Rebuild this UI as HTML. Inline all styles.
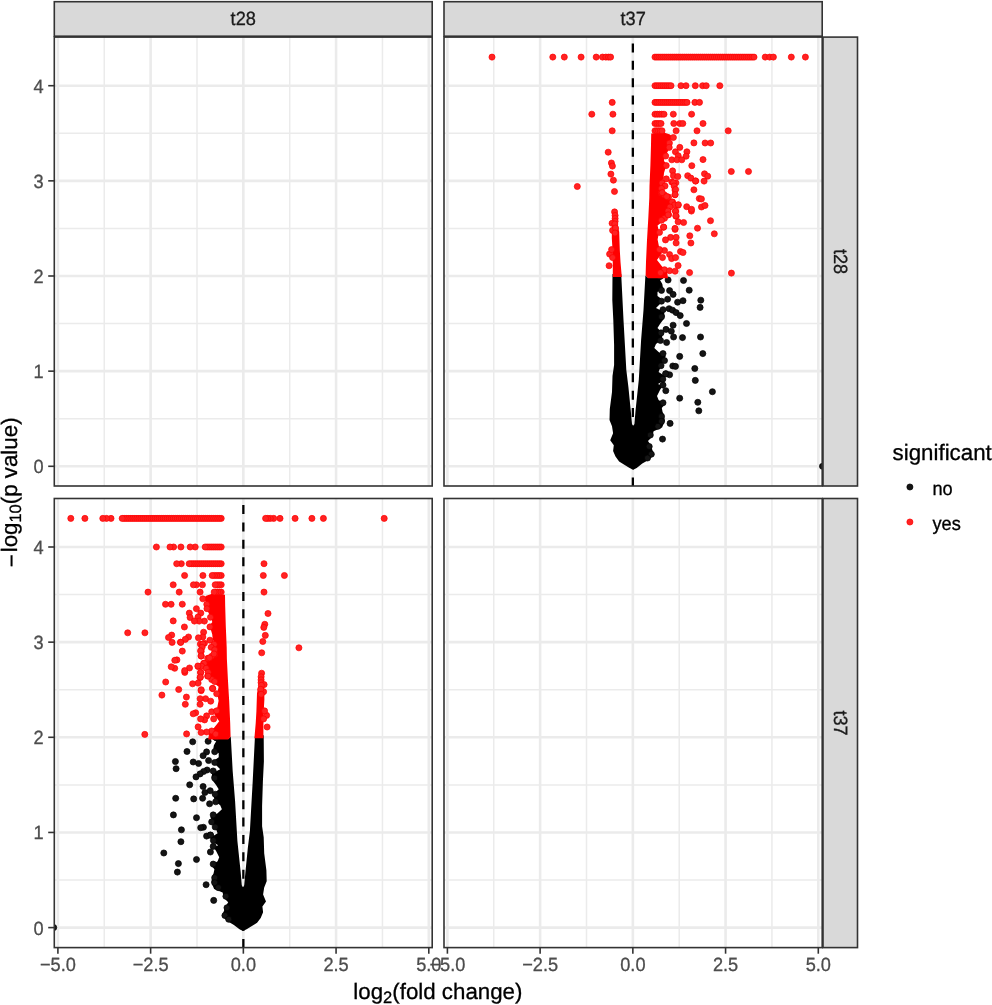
<!DOCTYPE html><html><head><meta charset="utf-8"><style>html,body{margin:0;padding:0;background:#fff;}svg{display:block;text-rendering:geometricPrecision;}</style></head><body><svg width="992" height="1005" viewBox="0 0 992 1005">
<g>
<rect width="992" height="1005" fill="#fff"/>
<clipPath id="clipLT"><rect x="54.3" y="37.1" width="377.9" height="448.9"/></clipPath>
<g clip-path="url(#clipLT)"><line x1="104.26" y1="37.1" x2="104.26" y2="486.0" stroke="#EBEBEB" stroke-width="1.5"/><line x1="196.99" y1="37.1" x2="196.99" y2="486.0" stroke="#EBEBEB" stroke-width="1.5"/><line x1="289.71" y1="37.1" x2="289.71" y2="486.0" stroke="#EBEBEB" stroke-width="1.5"/><line x1="382.44" y1="37.1" x2="382.44" y2="486.0" stroke="#EBEBEB" stroke-width="1.5"/><line x1="54.3" y1="418.73" x2="432.2" y2="418.73" stroke="#EBEBEB" stroke-width="1.5"/><line x1="54.3" y1="323.57" x2="432.2" y2="323.57" stroke="#EBEBEB" stroke-width="1.5"/><line x1="54.3" y1="228.43" x2="432.2" y2="228.43" stroke="#EBEBEB" stroke-width="1.5"/><line x1="54.3" y1="133.27" x2="432.2" y2="133.27" stroke="#EBEBEB" stroke-width="1.5"/><line x1="57.9" y1="37.1" x2="57.9" y2="486.0" stroke="#EBEBEB" stroke-width="2.6"/><line x1="150.62" y1="37.1" x2="150.62" y2="486.0" stroke="#EBEBEB" stroke-width="2.6"/><line x1="243.35" y1="37.1" x2="243.35" y2="486.0" stroke="#EBEBEB" stroke-width="2.6"/><line x1="336.07" y1="37.1" x2="336.07" y2="486.0" stroke="#EBEBEB" stroke-width="2.6"/><line x1="428.8" y1="37.1" x2="428.8" y2="486.0" stroke="#EBEBEB" stroke-width="2.6"/><line x1="54.3" y1="466.3" x2="432.2" y2="466.3" stroke="#EBEBEB" stroke-width="2.6"/><line x1="54.3" y1="371.15" x2="432.2" y2="371.15" stroke="#EBEBEB" stroke-width="2.6"/><line x1="54.3" y1="276" x2="432.2" y2="276" stroke="#EBEBEB" stroke-width="2.6"/><line x1="54.3" y1="180.85" x2="432.2" y2="180.85" stroke="#EBEBEB" stroke-width="2.6"/><line x1="54.3" y1="85.7" x2="432.2" y2="85.7" stroke="#EBEBEB" stroke-width="2.6"/></g>
<clipPath id="clipLB"><rect x="54.3" y="498.5" width="377.9" height="449.1"/></clipPath>
<g clip-path="url(#clipLB)"><line x1="104.26" y1="498.5" x2="104.26" y2="947.6" stroke="#EBEBEB" stroke-width="1.5"/><line x1="196.99" y1="498.5" x2="196.99" y2="947.6" stroke="#EBEBEB" stroke-width="1.5"/><line x1="289.71" y1="498.5" x2="289.71" y2="947.6" stroke="#EBEBEB" stroke-width="1.5"/><line x1="382.44" y1="498.5" x2="382.44" y2="947.6" stroke="#EBEBEB" stroke-width="1.5"/><line x1="54.3" y1="880.02" x2="432.2" y2="880.02" stroke="#EBEBEB" stroke-width="1.5"/><line x1="54.3" y1="784.88" x2="432.2" y2="784.88" stroke="#EBEBEB" stroke-width="1.5"/><line x1="54.3" y1="689.73" x2="432.2" y2="689.73" stroke="#EBEBEB" stroke-width="1.5"/><line x1="54.3" y1="594.58" x2="432.2" y2="594.58" stroke="#EBEBEB" stroke-width="1.5"/><line x1="57.9" y1="498.5" x2="57.9" y2="947.6" stroke="#EBEBEB" stroke-width="2.6"/><line x1="150.62" y1="498.5" x2="150.62" y2="947.6" stroke="#EBEBEB" stroke-width="2.6"/><line x1="243.35" y1="498.5" x2="243.35" y2="947.6" stroke="#EBEBEB" stroke-width="2.6"/><line x1="336.07" y1="498.5" x2="336.07" y2="947.6" stroke="#EBEBEB" stroke-width="2.6"/><line x1="428.8" y1="498.5" x2="428.8" y2="947.6" stroke="#EBEBEB" stroke-width="2.6"/><line x1="54.3" y1="927.6" x2="432.2" y2="927.6" stroke="#EBEBEB" stroke-width="2.6"/><line x1="54.3" y1="832.45" x2="432.2" y2="832.45" stroke="#EBEBEB" stroke-width="2.6"/><line x1="54.3" y1="737.3" x2="432.2" y2="737.3" stroke="#EBEBEB" stroke-width="2.6"/><line x1="54.3" y1="642.15" x2="432.2" y2="642.15" stroke="#EBEBEB" stroke-width="2.6"/><line x1="54.3" y1="547" x2="432.2" y2="547" stroke="#EBEBEB" stroke-width="2.6"/></g>
<clipPath id="clipRT"><rect x="444.0" y="37.1" width="378.20000000000005" height="448.9"/></clipPath>
<g clip-path="url(#clipRT)"><line x1="493.76" y1="37.1" x2="493.76" y2="486.0" stroke="#EBEBEB" stroke-width="1.5"/><line x1="586.49" y1="37.1" x2="586.49" y2="486.0" stroke="#EBEBEB" stroke-width="1.5"/><line x1="679.21" y1="37.1" x2="679.21" y2="486.0" stroke="#EBEBEB" stroke-width="1.5"/><line x1="771.94" y1="37.1" x2="771.94" y2="486.0" stroke="#EBEBEB" stroke-width="1.5"/><line x1="444.0" y1="418.73" x2="822.2" y2="418.73" stroke="#EBEBEB" stroke-width="1.5"/><line x1="444.0" y1="323.57" x2="822.2" y2="323.57" stroke="#EBEBEB" stroke-width="1.5"/><line x1="444.0" y1="228.43" x2="822.2" y2="228.43" stroke="#EBEBEB" stroke-width="1.5"/><line x1="444.0" y1="133.27" x2="822.2" y2="133.27" stroke="#EBEBEB" stroke-width="1.5"/><line x1="447.4" y1="37.1" x2="447.4" y2="486.0" stroke="#EBEBEB" stroke-width="2.6"/><line x1="540.12" y1="37.1" x2="540.12" y2="486.0" stroke="#EBEBEB" stroke-width="2.6"/><line x1="632.85" y1="37.1" x2="632.85" y2="486.0" stroke="#EBEBEB" stroke-width="2.6"/><line x1="725.58" y1="37.1" x2="725.58" y2="486.0" stroke="#EBEBEB" stroke-width="2.6"/><line x1="818.3" y1="37.1" x2="818.3" y2="486.0" stroke="#EBEBEB" stroke-width="2.6"/><line x1="444.0" y1="466.3" x2="822.2" y2="466.3" stroke="#EBEBEB" stroke-width="2.6"/><line x1="444.0" y1="371.15" x2="822.2" y2="371.15" stroke="#EBEBEB" stroke-width="2.6"/><line x1="444.0" y1="276" x2="822.2" y2="276" stroke="#EBEBEB" stroke-width="2.6"/><line x1="444.0" y1="180.85" x2="822.2" y2="180.85" stroke="#EBEBEB" stroke-width="2.6"/><line x1="444.0" y1="85.7" x2="822.2" y2="85.7" stroke="#EBEBEB" stroke-width="2.6"/></g>
<clipPath id="clipRB"><rect x="444.0" y="498.5" width="378.20000000000005" height="449.1"/></clipPath>
<g clip-path="url(#clipRB)"><line x1="493.76" y1="498.5" x2="493.76" y2="947.6" stroke="#EBEBEB" stroke-width="1.5"/><line x1="586.49" y1="498.5" x2="586.49" y2="947.6" stroke="#EBEBEB" stroke-width="1.5"/><line x1="679.21" y1="498.5" x2="679.21" y2="947.6" stroke="#EBEBEB" stroke-width="1.5"/><line x1="771.94" y1="498.5" x2="771.94" y2="947.6" stroke="#EBEBEB" stroke-width="1.5"/><line x1="444.0" y1="880.02" x2="822.2" y2="880.02" stroke="#EBEBEB" stroke-width="1.5"/><line x1="444.0" y1="784.88" x2="822.2" y2="784.88" stroke="#EBEBEB" stroke-width="1.5"/><line x1="444.0" y1="689.73" x2="822.2" y2="689.73" stroke="#EBEBEB" stroke-width="1.5"/><line x1="444.0" y1="594.58" x2="822.2" y2="594.58" stroke="#EBEBEB" stroke-width="1.5"/><line x1="447.4" y1="498.5" x2="447.4" y2="947.6" stroke="#EBEBEB" stroke-width="2.6"/><line x1="540.12" y1="498.5" x2="540.12" y2="947.6" stroke="#EBEBEB" stroke-width="2.6"/><line x1="632.85" y1="498.5" x2="632.85" y2="947.6" stroke="#EBEBEB" stroke-width="2.6"/><line x1="725.58" y1="498.5" x2="725.58" y2="947.6" stroke="#EBEBEB" stroke-width="2.6"/><line x1="818.3" y1="498.5" x2="818.3" y2="947.6" stroke="#EBEBEB" stroke-width="2.6"/><line x1="444.0" y1="927.6" x2="822.2" y2="927.6" stroke="#EBEBEB" stroke-width="2.6"/><line x1="444.0" y1="832.45" x2="822.2" y2="832.45" stroke="#EBEBEB" stroke-width="2.6"/><line x1="444.0" y1="737.3" x2="822.2" y2="737.3" stroke="#EBEBEB" stroke-width="2.6"/><line x1="444.0" y1="642.15" x2="822.2" y2="642.15" stroke="#EBEBEB" stroke-width="2.6"/><line x1="444.0" y1="547" x2="822.2" y2="547" stroke="#EBEBEB" stroke-width="2.6"/></g>
<g clip-path="url(#clipRT)"><polygon points="612.5,274 612.3,300 613.3,320 614.1,345 614.1,365 612.5,376 612,392 609.8,409 609.5,420 612,426.2 613.1,433.3 610.2,440.3 613.8,445.3 613.1,450.9 615.5,456.6 619.1,461.5 624.7,465 629.6,467.9 633.2,469.8 636.7,467.9 642.3,463.6 649.4,459.4 654.3,454.5 652.2,449.5 650.8,445.3 648,441 652.2,436.8 653.6,431.2 662.1,427.6 664.9,420.6 663.5,414 662.6,412 661.8,408 665,404 658.6,400 657,396 660,390 662.6,386 658,384 665,380 665,376 658.6,372 661.8,364 665.8,356 658.6,352 654.3,348 656,344 661.5,340 662.3,336 661.5,332 657.5,328 660,324 663,320 664.7,316 664,312 656,308 660,304 663,300 657.5,296 657.5,292 663,288 662.3,284 660,280 663.9,277.8 648,277.8 645.4,275.5 643.5,310 641.1,340 638.8,379.8 635.6,410 634.4,424 633.2,426.2 632,424 630.7,410 628.4,387 626.3,369.8 623.5,320 621.2,274" fill="#000000"/><circle cx="660" cy="276.5" r="3.05" fill="#141414" stroke="#000" stroke-width="0.7"/><circle cx="668.1" cy="280" r="3.05" fill="#141414" stroke="#000" stroke-width="0.7"/><circle cx="683.5" cy="280.5" r="3.05" fill="#141414" stroke="#000" stroke-width="0.7"/><circle cx="689.2" cy="290.2" r="3.05" fill="#141414" stroke="#000" stroke-width="0.7"/><circle cx="669.6" cy="290.6" r="3.05" fill="#141414" stroke="#000" stroke-width="0.7"/><circle cx="673.1" cy="294.4" r="3.05" fill="#141414" stroke="#000" stroke-width="0.7"/><circle cx="661.5" cy="290.4" r="3.05" fill="#141414" stroke="#000" stroke-width="0.7"/><circle cx="667.6" cy="299.2" r="3.05" fill="#141414" stroke="#000" stroke-width="0.7"/><circle cx="661.5" cy="301.2" r="3.05" fill="#141414" stroke="#000" stroke-width="0.7"/><circle cx="677.6" cy="302.2" r="3.05" fill="#141414" stroke="#000" stroke-width="0.7"/><circle cx="683" cy="300.7" r="3.05" fill="#141414" stroke="#000" stroke-width="0.7"/><circle cx="700.8" cy="300.2" r="3.05" fill="#141414" stroke="#000" stroke-width="0.7"/><circle cx="700.1" cy="307.4" r="3.05" fill="#141414" stroke="#000" stroke-width="0.7"/><circle cx="669.1" cy="308.7" r="3.05" fill="#141414" stroke="#000" stroke-width="0.7"/><circle cx="663" cy="309.7" r="3.05" fill="#141414" stroke="#000" stroke-width="0.7"/><circle cx="672.6" cy="310.2" r="3.05" fill="#141414" stroke="#000" stroke-width="0.7"/><circle cx="676.1" cy="312.6" r="3.05" fill="#141414" stroke="#000" stroke-width="0.7"/><circle cx="680.2" cy="315.6" r="3.05" fill="#141414" stroke="#000" stroke-width="0.7"/><circle cx="661.5" cy="316.8" r="3.05" fill="#141414" stroke="#000" stroke-width="0.7"/><circle cx="686.5" cy="323.5" r="3.05" fill="#141414" stroke="#000" stroke-width="0.7"/><circle cx="673.1" cy="325.2" r="3.05" fill="#141414" stroke="#000" stroke-width="0.7"/><circle cx="666" cy="329.4" r="3.05" fill="#141414" stroke="#000" stroke-width="0.7"/><circle cx="671.3" cy="331.2" r="3.05" fill="#141414" stroke="#000" stroke-width="0.7"/><circle cx="661" cy="332.9" r="3.05" fill="#141414" stroke="#000" stroke-width="0.7"/><circle cx="673.6" cy="337" r="3.05" fill="#141414" stroke="#000" stroke-width="0.7"/><circle cx="682.5" cy="337.6" r="3.05" fill="#141414" stroke="#000" stroke-width="0.7"/><circle cx="700.5" cy="337" r="3.05" fill="#141414" stroke="#000" stroke-width="0.7"/><circle cx="666.6" cy="342.5" r="3.05" fill="#141414" stroke="#000" stroke-width="0.7"/><circle cx="660.5" cy="340.5" r="3.05" fill="#141414" stroke="#000" stroke-width="0.7"/><circle cx="702.8" cy="353.6" r="3.05" fill="#141414" stroke="#000" stroke-width="0.7"/><circle cx="679.7" cy="356.4" r="3.05" fill="#141414" stroke="#000" stroke-width="0.7"/><circle cx="663" cy="353.6" r="3.05" fill="#141414" stroke="#000" stroke-width="0.7"/><circle cx="664.5" cy="360.6" r="3.05" fill="#141414" stroke="#000" stroke-width="0.7"/><circle cx="672.8" cy="366" r="3.05" fill="#141414" stroke="#000" stroke-width="0.7"/><circle cx="675.5" cy="366.4" r="3.05" fill="#141414" stroke="#000" stroke-width="0.7"/><circle cx="694.8" cy="368.5" r="3.05" fill="#141414" stroke="#000" stroke-width="0.7"/><circle cx="666" cy="373.8" r="3.05" fill="#141414" stroke="#000" stroke-width="0.7"/><circle cx="669.6" cy="374.8" r="3.05" fill="#141414" stroke="#000" stroke-width="0.7"/><circle cx="695.3" cy="380.4" r="3.05" fill="#141414" stroke="#000" stroke-width="0.7"/><circle cx="661" cy="365.7" r="3.05" fill="#141414" stroke="#000" stroke-width="0.7"/><circle cx="663" cy="385.1" r="3.05" fill="#141414" stroke="#000" stroke-width="0.7"/><circle cx="665.8" cy="390.7" r="3.05" fill="#141414" stroke="#000" stroke-width="0.7"/><circle cx="712.4" cy="391.7" r="3.05" fill="#141414" stroke="#000" stroke-width="0.7"/><circle cx="679.7" cy="398.2" r="3.05" fill="#141414" stroke="#000" stroke-width="0.7"/><circle cx="663" cy="402.8" r="3.05" fill="#141414" stroke="#000" stroke-width="0.7"/><circle cx="697.8" cy="402.3" r="3.05" fill="#141414" stroke="#000" stroke-width="0.7"/><circle cx="698.8" cy="410.8" r="3.05" fill="#141414" stroke="#000" stroke-width="0.7"/><circle cx="670.1" cy="423.4" r="3.05" fill="#141414" stroke="#000" stroke-width="0.7"/><circle cx="661.5" cy="416.4" r="3.05" fill="#141414" stroke="#000" stroke-width="0.7"/><circle cx="661.5" cy="421.4" r="3.05" fill="#141414" stroke="#000" stroke-width="0.7"/><circle cx="662.5" cy="439.1" r="3.05" fill="#141414" stroke="#000" stroke-width="0.7"/><circle cx="662.8" cy="379.2" r="3.05" fill="#141414" stroke="#000" stroke-width="0.7"/><circle cx="665.6" cy="373.8" r="3.05" fill="#141414" stroke="#000" stroke-width="0.7"/><circle cx="650.3" cy="435" r="3.05" fill="#141414" stroke="#000" stroke-width="0.7"/><circle cx="649.2" cy="446.5" r="3.05" fill="#141414" stroke="#000" stroke-width="0.7"/><circle cx="651.3" cy="454.2" r="3.05" fill="#141414" stroke="#000" stroke-width="0.7"/><circle cx="647.5" cy="458" r="3.05" fill="#141414" stroke="#000" stroke-width="0.7"/><circle cx="657.9" cy="426.3" r="3.05" fill="#141414" stroke="#000" stroke-width="0.7"/><circle cx="822.5" cy="466.3" r="3.05" fill="#141414" stroke="#000" stroke-width="0.7"/><polygon points="651.2,133.5 664,132.5 670,134.5 672.5,137 670,141 668.5,145 669,149 667,153 664.5,157 664,161 666.5,164 665.5,168 664,173 663.5,178 661,184 660,188 664,192 669,196 673,201 674,205 671,209 669,213 667,217 662,222 657.6,225.5 659,232.4 657.6,239.4 659,246.4 662,253 657,260 662.5,267 667,271 668,278.3 648,278.3 645.6,275.5 646,262 647,240 648.3,218 649.3,198 649.5,186 650.4,165 651,145" fill="#FF0000"/><polygon points="612,226 617.5,224 619.2,232 619.8,250 620.5,262 621.8,277 612.8,277 612.8,265 612.5,250 611.8,238" fill="#FF0000"/><circle cx="492" cy="57.1" r="3.05" fill="#F22" stroke="#F00" stroke-width="0.7"/><circle cx="552.8" cy="57.1" r="3.05" fill="#F22" stroke="#F00" stroke-width="0.7"/><circle cx="564.3" cy="57.1" r="3.05" fill="#F22" stroke="#F00" stroke-width="0.7"/><circle cx="581.1" cy="57.1" r="3.05" fill="#F22" stroke="#F00" stroke-width="0.7"/><circle cx="596.2" cy="57.1" r="3.05" fill="#F22" stroke="#F00" stroke-width="0.7"/><circle cx="602.5" cy="57.1" r="3.05" fill="#F22" stroke="#F00" stroke-width="0.7"/><circle cx="605.9" cy="57.1" r="3.05" fill="#F22" stroke="#F00" stroke-width="0.7"/><circle cx="608.5" cy="57.1" r="3.05" fill="#F22" stroke="#F00" stroke-width="0.7"/><circle cx="610.6" cy="57.1" r="3.05" fill="#F22" stroke="#F00" stroke-width="0.7"/><circle cx="655" cy="57.1" r="3.05" fill="#F22" stroke="#F00" stroke-width="0.7"/><circle cx="656.98" cy="57.1" r="3.05" fill="#F22" stroke="#F00" stroke-width="0.7"/><circle cx="658.96" cy="57.1" r="3.05" fill="#F22" stroke="#F00" stroke-width="0.7"/><circle cx="660.94" cy="57.1" r="3.05" fill="#F22" stroke="#F00" stroke-width="0.7"/><circle cx="662.92" cy="57.1" r="3.05" fill="#F22" stroke="#F00" stroke-width="0.7"/><circle cx="664.9" cy="57.1" r="3.05" fill="#F22" stroke="#F00" stroke-width="0.7"/><circle cx="666.88" cy="57.1" r="3.05" fill="#F22" stroke="#F00" stroke-width="0.7"/><circle cx="668.86" cy="57.1" r="3.05" fill="#F22" stroke="#F00" stroke-width="0.7"/><circle cx="670.84" cy="57.1" r="3.05" fill="#F22" stroke="#F00" stroke-width="0.7"/><circle cx="672.82" cy="57.1" r="3.05" fill="#F22" stroke="#F00" stroke-width="0.7"/><circle cx="674.8" cy="57.1" r="3.05" fill="#F22" stroke="#F00" stroke-width="0.7"/><circle cx="676.78" cy="57.1" r="3.05" fill="#F22" stroke="#F00" stroke-width="0.7"/><circle cx="678.76" cy="57.1" r="3.05" fill="#F22" stroke="#F00" stroke-width="0.7"/><circle cx="680.74" cy="57.1" r="3.05" fill="#F22" stroke="#F00" stroke-width="0.7"/><circle cx="682.72" cy="57.1" r="3.05" fill="#F22" stroke="#F00" stroke-width="0.7"/><circle cx="684.7" cy="57.1" r="3.05" fill="#F22" stroke="#F00" stroke-width="0.7"/><circle cx="686.68" cy="57.1" r="3.05" fill="#F22" stroke="#F00" stroke-width="0.7"/><circle cx="688.66" cy="57.1" r="3.05" fill="#F22" stroke="#F00" stroke-width="0.7"/><circle cx="690.64" cy="57.1" r="3.05" fill="#F22" stroke="#F00" stroke-width="0.7"/><circle cx="692.62" cy="57.1" r="3.05" fill="#F22" stroke="#F00" stroke-width="0.7"/><circle cx="694.6" cy="57.1" r="3.05" fill="#F22" stroke="#F00" stroke-width="0.7"/><circle cx="696.58" cy="57.1" r="3.05" fill="#F22" stroke="#F00" stroke-width="0.7"/><circle cx="698.56" cy="57.1" r="3.05" fill="#F22" stroke="#F00" stroke-width="0.7"/><circle cx="700.54" cy="57.1" r="3.05" fill="#F22" stroke="#F00" stroke-width="0.7"/><circle cx="702.52" cy="57.1" r="3.05" fill="#F22" stroke="#F00" stroke-width="0.7"/><circle cx="704.5" cy="57.1" r="3.05" fill="#F22" stroke="#F00" stroke-width="0.7"/><circle cx="706.48" cy="57.1" r="3.05" fill="#F22" stroke="#F00" stroke-width="0.7"/><circle cx="708.46" cy="57.1" r="3.05" fill="#F22" stroke="#F00" stroke-width="0.7"/><circle cx="710.44" cy="57.1" r="3.05" fill="#F22" stroke="#F00" stroke-width="0.7"/><circle cx="712.42" cy="57.1" r="3.05" fill="#F22" stroke="#F00" stroke-width="0.7"/><circle cx="714.4" cy="57.1" r="3.05" fill="#F22" stroke="#F00" stroke-width="0.7"/><circle cx="716.38" cy="57.1" r="3.05" fill="#F22" stroke="#F00" stroke-width="0.7"/><circle cx="718.36" cy="57.1" r="3.05" fill="#F22" stroke="#F00" stroke-width="0.7"/><circle cx="720.34" cy="57.1" r="3.05" fill="#F22" stroke="#F00" stroke-width="0.7"/><circle cx="722.32" cy="57.1" r="3.05" fill="#F22" stroke="#F00" stroke-width="0.7"/><circle cx="724.3" cy="57.1" r="3.05" fill="#F22" stroke="#F00" stroke-width="0.7"/><circle cx="726.28" cy="57.1" r="3.05" fill="#F22" stroke="#F00" stroke-width="0.7"/><circle cx="728.26" cy="57.1" r="3.05" fill="#F22" stroke="#F00" stroke-width="0.7"/><circle cx="730.24" cy="57.1" r="3.05" fill="#F22" stroke="#F00" stroke-width="0.7"/><circle cx="732.22" cy="57.1" r="3.05" fill="#F22" stroke="#F00" stroke-width="0.7"/><circle cx="734.2" cy="57.1" r="3.05" fill="#F22" stroke="#F00" stroke-width="0.7"/><circle cx="736.18" cy="57.1" r="3.05" fill="#F22" stroke="#F00" stroke-width="0.7"/><circle cx="738.16" cy="57.1" r="3.05" fill="#F22" stroke="#F00" stroke-width="0.7"/><circle cx="740.14" cy="57.1" r="3.05" fill="#F22" stroke="#F00" stroke-width="0.7"/><circle cx="742.12" cy="57.1" r="3.05" fill="#F22" stroke="#F00" stroke-width="0.7"/><circle cx="744.1" cy="57.1" r="3.05" fill="#F22" stroke="#F00" stroke-width="0.7"/><circle cx="746.08" cy="57.1" r="3.05" fill="#F22" stroke="#F00" stroke-width="0.7"/><circle cx="748.06" cy="57.1" r="3.05" fill="#F22" stroke="#F00" stroke-width="0.7"/><circle cx="750.04" cy="57.1" r="3.05" fill="#F22" stroke="#F00" stroke-width="0.7"/><circle cx="752.02" cy="57.1" r="3.05" fill="#F22" stroke="#F00" stroke-width="0.7"/><circle cx="754" cy="57.1" r="3.05" fill="#F22" stroke="#F00" stroke-width="0.7"/><circle cx="765.2" cy="57.1" r="3.05" fill="#F22" stroke="#F00" stroke-width="0.7"/><circle cx="769.7" cy="57.1" r="3.05" fill="#F22" stroke="#F00" stroke-width="0.7"/><circle cx="773.4" cy="57.1" r="3.05" fill="#F22" stroke="#F00" stroke-width="0.7"/><circle cx="791.3" cy="57.1" r="3.05" fill="#F22" stroke="#F00" stroke-width="0.7"/><circle cx="805.4" cy="57.1" r="3.05" fill="#F22" stroke="#F00" stroke-width="0.7"/><circle cx="655" cy="85.7" r="3.05" fill="#F22" stroke="#F00" stroke-width="0.7"/><circle cx="657" cy="85.7" r="3.05" fill="#F22" stroke="#F00" stroke-width="0.7"/><circle cx="659" cy="85.7" r="3.05" fill="#F22" stroke="#F00" stroke-width="0.7"/><circle cx="661" cy="85.7" r="3.05" fill="#F22" stroke="#F00" stroke-width="0.7"/><circle cx="663" cy="85.7" r="3.05" fill="#F22" stroke="#F00" stroke-width="0.7"/><circle cx="665" cy="85.7" r="3.05" fill="#F22" stroke="#F00" stroke-width="0.7"/><circle cx="667" cy="85.7" r="3.05" fill="#F22" stroke="#F00" stroke-width="0.7"/><circle cx="669" cy="85.7" r="3.05" fill="#F22" stroke="#F00" stroke-width="0.7"/><circle cx="671" cy="85.7" r="3.05" fill="#F22" stroke="#F00" stroke-width="0.7"/><circle cx="681" cy="85.7" r="3.05" fill="#F22" stroke="#F00" stroke-width="0.7"/><circle cx="686" cy="85.7" r="3.05" fill="#F22" stroke="#F00" stroke-width="0.7"/><circle cx="695.3" cy="85.7" r="3.05" fill="#F22" stroke="#F00" stroke-width="0.7"/><circle cx="702.6" cy="85.7" r="3.05" fill="#F22" stroke="#F00" stroke-width="0.7"/><circle cx="706.2" cy="85.7" r="3.05" fill="#F22" stroke="#F00" stroke-width="0.7"/><circle cx="719.8" cy="85.7" r="3.05" fill="#F22" stroke="#F00" stroke-width="0.7"/><circle cx="612.2" cy="102.4" r="3.05" fill="#F22" stroke="#F00" stroke-width="0.7"/><circle cx="655" cy="102.4" r="3.05" fill="#F22" stroke="#F00" stroke-width="0.7"/><circle cx="657" cy="102.4" r="3.05" fill="#F22" stroke="#F00" stroke-width="0.7"/><circle cx="659" cy="102.4" r="3.05" fill="#F22" stroke="#F00" stroke-width="0.7"/><circle cx="661" cy="102.4" r="3.05" fill="#F22" stroke="#F00" stroke-width="0.7"/><circle cx="663" cy="102.4" r="3.05" fill="#F22" stroke="#F00" stroke-width="0.7"/><circle cx="665" cy="102.4" r="3.05" fill="#F22" stroke="#F00" stroke-width="0.7"/><circle cx="667" cy="102.4" r="3.05" fill="#F22" stroke="#F00" stroke-width="0.7"/><circle cx="669" cy="102.4" r="3.05" fill="#F22" stroke="#F00" stroke-width="0.7"/><circle cx="671" cy="102.4" r="3.05" fill="#F22" stroke="#F00" stroke-width="0.7"/><circle cx="673" cy="102.4" r="3.05" fill="#F22" stroke="#F00" stroke-width="0.7"/><circle cx="675" cy="102.4" r="3.05" fill="#F22" stroke="#F00" stroke-width="0.7"/><circle cx="677" cy="102.4" r="3.05" fill="#F22" stroke="#F00" stroke-width="0.7"/><circle cx="679" cy="102.4" r="3.05" fill="#F22" stroke="#F00" stroke-width="0.7"/><circle cx="681" cy="102.4" r="3.05" fill="#F22" stroke="#F00" stroke-width="0.7"/><circle cx="683" cy="102.4" r="3.05" fill="#F22" stroke="#F00" stroke-width="0.7"/><circle cx="685" cy="102.4" r="3.05" fill="#F22" stroke="#F00" stroke-width="0.7"/><circle cx="687" cy="102.4" r="3.05" fill="#F22" stroke="#F00" stroke-width="0.7"/><circle cx="694.9" cy="102.4" r="3.05" fill="#F22" stroke="#F00" stroke-width="0.7"/><circle cx="699.5" cy="102.4" r="3.05" fill="#F22" stroke="#F00" stroke-width="0.7"/><circle cx="591.8" cy="114.2" r="3.05" fill="#F22" stroke="#F00" stroke-width="0.7"/><circle cx="612.9" cy="114.2" r="3.05" fill="#F22" stroke="#F00" stroke-width="0.7"/><circle cx="655" cy="114.2" r="3.05" fill="#F22" stroke="#F00" stroke-width="0.7"/><circle cx="657.25" cy="114.2" r="3.05" fill="#F22" stroke="#F00" stroke-width="0.7"/><circle cx="659.5" cy="114.2" r="3.05" fill="#F22" stroke="#F00" stroke-width="0.7"/><circle cx="661.75" cy="114.2" r="3.05" fill="#F22" stroke="#F00" stroke-width="0.7"/><circle cx="664" cy="114.2" r="3.05" fill="#F22" stroke="#F00" stroke-width="0.7"/><circle cx="673.3" cy="114.2" r="3.05" fill="#F22" stroke="#F00" stroke-width="0.7"/><circle cx="691.6" cy="114.2" r="3.05" fill="#F22" stroke="#F00" stroke-width="0.7"/><circle cx="655" cy="123.5" r="3.05" fill="#F22" stroke="#F00" stroke-width="0.7"/><circle cx="657" cy="123.5" r="3.05" fill="#F22" stroke="#F00" stroke-width="0.7"/><circle cx="659" cy="123.5" r="3.05" fill="#F22" stroke="#F00" stroke-width="0.7"/><circle cx="661" cy="123.5" r="3.05" fill="#F22" stroke="#F00" stroke-width="0.7"/><circle cx="673.8" cy="123.5" r="3.05" fill="#F22" stroke="#F00" stroke-width="0.7"/><circle cx="679.8" cy="123.5" r="3.05" fill="#F22" stroke="#F00" stroke-width="0.7"/><circle cx="682.8" cy="123.5" r="3.05" fill="#F22" stroke="#F00" stroke-width="0.7"/><circle cx="703" cy="123.5" r="3.05" fill="#F22" stroke="#F00" stroke-width="0.7"/><circle cx="612.2" cy="130.8" r="3.05" fill="#F22" stroke="#F00" stroke-width="0.7"/><circle cx="655" cy="130.8" r="3.05" fill="#F22" stroke="#F00" stroke-width="0.7"/><circle cx="656.75" cy="130.8" r="3.05" fill="#F22" stroke="#F00" stroke-width="0.7"/><circle cx="658.5" cy="130.8" r="3.05" fill="#F22" stroke="#F00" stroke-width="0.7"/><circle cx="660.25" cy="130.8" r="3.05" fill="#F22" stroke="#F00" stroke-width="0.7"/><circle cx="662" cy="130.8" r="3.05" fill="#F22" stroke="#F00" stroke-width="0.7"/><circle cx="676.1" cy="130.8" r="3.05" fill="#F22" stroke="#F00" stroke-width="0.7"/><circle cx="697" cy="130.8" r="3.05" fill="#F22" stroke="#F00" stroke-width="0.7"/><circle cx="728.2" cy="130.8" r="3.05" fill="#F22" stroke="#F00" stroke-width="0.7"/><circle cx="673.4" cy="137.5" r="3.05" fill="#F22" stroke="#F00" stroke-width="0.7"/><circle cx="669.4" cy="143.1" r="3.05" fill="#F22" stroke="#F00" stroke-width="0.7"/><circle cx="693.9" cy="142.9" r="3.05" fill="#F22" stroke="#F00" stroke-width="0.7"/><circle cx="705.1" cy="143" r="3.05" fill="#F22" stroke="#F00" stroke-width="0.7"/><circle cx="710.7" cy="143" r="3.05" fill="#F22" stroke="#F00" stroke-width="0.7"/><circle cx="679.8" cy="147.4" r="3.05" fill="#F22" stroke="#F00" stroke-width="0.7"/><circle cx="669.2" cy="147.4" r="3.05" fill="#F22" stroke="#F00" stroke-width="0.7"/><circle cx="675.4" cy="151.8" r="3.05" fill="#F22" stroke="#F00" stroke-width="0.7"/><circle cx="686.9" cy="151.8" r="3.05" fill="#F22" stroke="#F00" stroke-width="0.7"/><circle cx="686.1" cy="156.2" r="3.05" fill="#F22" stroke="#F00" stroke-width="0.7"/><circle cx="678.2" cy="155.8" r="3.05" fill="#F22" stroke="#F00" stroke-width="0.7"/><circle cx="665.7" cy="156" r="3.05" fill="#F22" stroke="#F00" stroke-width="0.7"/><circle cx="671.8" cy="159.8" r="3.05" fill="#F22" stroke="#F00" stroke-width="0.7"/><circle cx="677" cy="159.8" r="3.05" fill="#F22" stroke="#F00" stroke-width="0.7"/><circle cx="681.8" cy="159.8" r="3.05" fill="#F22" stroke="#F00" stroke-width="0.7"/><circle cx="703" cy="159.6" r="3.05" fill="#F22" stroke="#F00" stroke-width="0.7"/><circle cx="691.8" cy="165.7" r="3.05" fill="#F22" stroke="#F00" stroke-width="0.7"/><circle cx="666.2" cy="165.6" r="3.05" fill="#F22" stroke="#F00" stroke-width="0.7"/><circle cx="672.6" cy="170.9" r="3.05" fill="#F22" stroke="#F00" stroke-width="0.7"/><circle cx="731.3" cy="171.5" r="3.05" fill="#F22" stroke="#F00" stroke-width="0.7"/><circle cx="748.5" cy="171.5" r="3.05" fill="#F22" stroke="#F00" stroke-width="0.7"/><circle cx="673.4" cy="175.7" r="3.05" fill="#F22" stroke="#F00" stroke-width="0.7"/><circle cx="677.8" cy="176.5" r="3.05" fill="#F22" stroke="#F00" stroke-width="0.7"/><circle cx="687.7" cy="175.7" r="3.05" fill="#F22" stroke="#F00" stroke-width="0.7"/><circle cx="690.9" cy="178.1" r="3.05" fill="#F22" stroke="#F00" stroke-width="0.7"/><circle cx="695.7" cy="180.9" r="3.05" fill="#F22" stroke="#F00" stroke-width="0.7"/><circle cx="704.5" cy="173.8" r="3.05" fill="#F22" stroke="#F00" stroke-width="0.7"/><circle cx="707.7" cy="176.2" r="3.05" fill="#F22" stroke="#F00" stroke-width="0.7"/><circle cx="704.1" cy="181.1" r="3.05" fill="#F22" stroke="#F00" stroke-width="0.7"/><circle cx="695.5" cy="181.1" r="3.05" fill="#F22" stroke="#F00" stroke-width="0.7"/><circle cx="666.3" cy="178.9" r="3.05" fill="#F22" stroke="#F00" stroke-width="0.7"/><circle cx="671.8" cy="182" r="3.05" fill="#F22" stroke="#F00" stroke-width="0.7"/><circle cx="675.8" cy="182.8" r="3.05" fill="#F22" stroke="#F00" stroke-width="0.7"/><circle cx="673.3" cy="182.7" r="3.05" fill="#F22" stroke="#F00" stroke-width="0.7"/><circle cx="693.9" cy="189.8" r="3.05" fill="#F22" stroke="#F00" stroke-width="0.7"/><circle cx="675" cy="190" r="3.05" fill="#F22" stroke="#F00" stroke-width="0.7"/><circle cx="675" cy="194.8" r="3.05" fill="#F22" stroke="#F00" stroke-width="0.7"/><circle cx="661.9" cy="193.2" r="3.05" fill="#F22" stroke="#F00" stroke-width="0.7"/><circle cx="667.8" cy="197.2" r="3.05" fill="#F22" stroke="#F00" stroke-width="0.7"/><circle cx="661.2" cy="193.3" r="3.05" fill="#F22" stroke="#F00" stroke-width="0.7"/><circle cx="674.1" cy="186" r="3.05" fill="#F22" stroke="#F00" stroke-width="0.7"/><circle cx="675.6" cy="189.5" r="3.05" fill="#F22" stroke="#F00" stroke-width="0.7"/><circle cx="675.1" cy="194.6" r="3.05" fill="#F22" stroke="#F00" stroke-width="0.7"/><circle cx="699.3" cy="198.6" r="3.05" fill="#F22" stroke="#F00" stroke-width="0.7"/><circle cx="701.4" cy="199" r="3.05" fill="#F22" stroke="#F00" stroke-width="0.7"/><circle cx="661.5" cy="192.6" r="3.05" fill="#F22" stroke="#F00" stroke-width="0.7"/><circle cx="668.5" cy="197.1" r="3.05" fill="#F22" stroke="#F00" stroke-width="0.7"/><circle cx="664.5" cy="195" r="3.05" fill="#F22" stroke="#F00" stroke-width="0.7"/><circle cx="672.6" cy="202.1" r="3.05" fill="#F22" stroke="#F00" stroke-width="0.7"/><circle cx="678.1" cy="205.2" r="3.05" fill="#F22" stroke="#F00" stroke-width="0.7"/><circle cx="686.7" cy="206.7" r="3.05" fill="#F22" stroke="#F00" stroke-width="0.7"/><circle cx="691.4" cy="211.1" r="3.05" fill="#F22" stroke="#F00" stroke-width="0.7"/><circle cx="701.5" cy="207" r="3.05" fill="#F22" stroke="#F00" stroke-width="0.7"/><circle cx="705" cy="205.5" r="3.05" fill="#F22" stroke="#F00" stroke-width="0.7"/><circle cx="691.5" cy="209.3" r="3.05" fill="#F22" stroke="#F00" stroke-width="0.7"/><circle cx="675.6" cy="211.2" r="3.05" fill="#F22" stroke="#F00" stroke-width="0.7"/><circle cx="668.5" cy="214.7" r="3.05" fill="#F22" stroke="#F00" stroke-width="0.7"/><circle cx="676.1" cy="216.3" r="3.05" fill="#F22" stroke="#F00" stroke-width="0.7"/><circle cx="664.5" cy="218.3" r="3.05" fill="#F22" stroke="#F00" stroke-width="0.7"/><circle cx="661.5" cy="220.3" r="3.05" fill="#F22" stroke="#F00" stroke-width="0.7"/><circle cx="678.1" cy="221.8" r="3.05" fill="#F22" stroke="#F00" stroke-width="0.7"/><circle cx="683.6" cy="222.5" r="3.05" fill="#F22" stroke="#F00" stroke-width="0.7"/><circle cx="710.5" cy="220.7" r="3.05" fill="#F22" stroke="#F00" stroke-width="0.7"/><circle cx="663.5" cy="227.3" r="3.05" fill="#F22" stroke="#F00" stroke-width="0.7"/><circle cx="675.1" cy="229.4" r="3.05" fill="#F22" stroke="#F00" stroke-width="0.7"/><circle cx="697.5" cy="228.2" r="3.05" fill="#F22" stroke="#F00" stroke-width="0.7"/><circle cx="714.3" cy="233.8" r="3.05" fill="#F22" stroke="#F00" stroke-width="0.7"/><circle cx="659.5" cy="232.4" r="3.05" fill="#F22" stroke="#F00" stroke-width="0.7"/><circle cx="689.8" cy="235.8" r="3.05" fill="#F22" stroke="#F00" stroke-width="0.7"/><circle cx="670.6" cy="237.4" r="3.05" fill="#F22" stroke="#F00" stroke-width="0.7"/><circle cx="676.1" cy="237.4" r="3.05" fill="#F22" stroke="#F00" stroke-width="0.7"/><circle cx="665.5" cy="239.9" r="3.05" fill="#F22" stroke="#F00" stroke-width="0.7"/><circle cx="676.1" cy="243" r="3.05" fill="#F22" stroke="#F00" stroke-width="0.7"/><circle cx="690.9" cy="243" r="3.05" fill="#F22" stroke="#F00" stroke-width="0.7"/><circle cx="664.5" cy="250.5" r="3.05" fill="#F22" stroke="#F00" stroke-width="0.7"/><circle cx="669.6" cy="254.6" r="3.05" fill="#F22" stroke="#F00" stroke-width="0.7"/><circle cx="680.5" cy="251.5" r="3.05" fill="#F22" stroke="#F00" stroke-width="0.7"/><circle cx="683" cy="252.5" r="3.05" fill="#F22" stroke="#F00" stroke-width="0.7"/><circle cx="662.5" cy="257.6" r="3.05" fill="#F22" stroke="#F00" stroke-width="0.7"/><circle cx="671.6" cy="258.6" r="3.05" fill="#F22" stroke="#F00" stroke-width="0.7"/><circle cx="675.6" cy="257.6" r="3.05" fill="#F22" stroke="#F00" stroke-width="0.7"/><circle cx="659.5" cy="249.5" r="3.05" fill="#F22" stroke="#F00" stroke-width="0.7"/><circle cx="678.1" cy="265.6" r="3.05" fill="#F22" stroke="#F00" stroke-width="0.7"/><circle cx="664.5" cy="269.7" r="3.05" fill="#F22" stroke="#F00" stroke-width="0.7"/><circle cx="669.6" cy="270.7" r="3.05" fill="#F22" stroke="#F00" stroke-width="0.7"/><circle cx="675.1" cy="271.2" r="3.05" fill="#F22" stroke="#F00" stroke-width="0.7"/><circle cx="689.6" cy="272.6" r="3.05" fill="#F22" stroke="#F00" stroke-width="0.7"/><circle cx="660.5" cy="272.7" r="3.05" fill="#F22" stroke="#F00" stroke-width="0.7"/><circle cx="731.4" cy="273.1" r="3.05" fill="#F22" stroke="#F00" stroke-width="0.7"/><circle cx="613.4" cy="180.2" r="3.05" fill="#F22" stroke="#F00" stroke-width="0.7"/><circle cx="577.3" cy="186.5" r="3.05" fill="#F22" stroke="#F00" stroke-width="0.7"/><circle cx="614.5" cy="191.5" r="3.05" fill="#F22" stroke="#F00" stroke-width="0.7"/><circle cx="608.2" cy="152.2" r="3.05" fill="#F22" stroke="#F00" stroke-width="0.7"/><circle cx="611.4" cy="163" r="3.05" fill="#F22" stroke="#F00" stroke-width="0.7"/><circle cx="612.4" cy="166.1" r="3.05" fill="#F22" stroke="#F00" stroke-width="0.7"/><circle cx="610.9" cy="174.1" r="3.05" fill="#F22" stroke="#F00" stroke-width="0.7"/><circle cx="614.6" cy="211.9" r="3.05" fill="#F22" stroke="#F00" stroke-width="0.7"/><circle cx="615.1" cy="215.5" r="3.05" fill="#F22" stroke="#F00" stroke-width="0.7"/><circle cx="615.1" cy="218.5" r="3.05" fill="#F22" stroke="#F00" stroke-width="0.7"/><circle cx="615.1" cy="221.3" r="3.05" fill="#F22" stroke="#F00" stroke-width="0.7"/><circle cx="612.1" cy="223.3" r="3.05" fill="#F22" stroke="#F00" stroke-width="0.7"/><circle cx="612.6" cy="230.4" r="3.05" fill="#F22" stroke="#F00" stroke-width="0.7"/><circle cx="609.6" cy="254.1" r="3.05" fill="#F22" stroke="#F00" stroke-width="0.7"/><circle cx="611.6" cy="249.6" r="3.05" fill="#F22" stroke="#F00" stroke-width="0.7"/><circle cx="609.1" cy="265.7" r="3.05" fill="#F22" stroke="#F00" stroke-width="0.7"/><circle cx="612.6" cy="257.6" r="3.05" fill="#F22" stroke="#F00" stroke-width="0.7"/><circle cx="614.8" cy="224" r="3.05" fill="#F22" stroke="#F00" stroke-width="0.7"/><circle cx="615.5" cy="228" r="3.05" fill="#F22" stroke="#F00" stroke-width="0.7"/><circle cx="615" cy="233" r="3.05" fill="#F22" stroke="#F00" stroke-width="0.7"/><circle cx="662" cy="183" r="3.05" fill="#F22" stroke="#F00" stroke-width="0.7"/><circle cx="665" cy="186" r="3.05" fill="#F22" stroke="#F00" stroke-width="0.7"/><circle cx="661.5" cy="188.5" r="3.05" fill="#F22" stroke="#F00" stroke-width="0.7"/><circle cx="672" cy="202" r="3.05" fill="#F22" stroke="#F00" stroke-width="0.7"/><circle cx="674.5" cy="205" r="3.05" fill="#F22" stroke="#F00" stroke-width="0.7"/><circle cx="670" cy="207" r="3.05" fill="#F22" stroke="#F00" stroke-width="0.7"/><circle cx="668" cy="211" r="3.05" fill="#F22" stroke="#F00" stroke-width="0.7"/><circle cx="675.5" cy="211.3" r="3.05" fill="#F22" stroke="#F00" stroke-width="0.7"/><circle cx="675.8" cy="215.8" r="3.05" fill="#F22" stroke="#F00" stroke-width="0.7"/><circle cx="668.2" cy="214.8" r="3.05" fill="#F22" stroke="#F00" stroke-width="0.7"/><circle cx="662.2" cy="192.6" r="3.05" fill="#F22" stroke="#F00" stroke-width="0.7"/><circle cx="666.7" cy="196.6" r="3.05" fill="#F22" stroke="#F00" stroke-width="0.7"/><circle cx="678.3" cy="204.7" r="3.05" fill="#F22" stroke="#F00" stroke-width="0.7"/><circle cx="663.7" cy="227.1" r="3.05" fill="#F22" stroke="#F00" stroke-width="0.7"/><circle cx="675" cy="228.4" r="3.05" fill="#F22" stroke="#F00" stroke-width="0.7"/><line x1="632.85" y1="486.0" x2="632.85" y2="37.1" stroke="#000" stroke-width="2.3" stroke-dasharray="9.0 8.36" stroke-dashoffset="0.5"/></g>
<g clip-path="url(#clipLB)"><polygon points="263.7,735.3 263.9,761.3 262.9,781.3 262.1,806.3 262.1,826.3 263.7,837.3 264.2,853.3 266.4,870.3 266.7,881.3 264.2,887.5 263.1,894.6 266,901.6 262.4,906.6 263.1,912.2 260.7,917.9 257.1,922.8 251.5,926.3 246.6,929.2 243,931.1 239.5,929.2 233.9,924.9 226.8,920.7 221.9,915.8 224,910.8 225.4,906.6 228.2,902.3 224,898.1 222.6,892.5 214.1,888.9 211.3,881.9 212.7,875.3 213.6,873.3 214.4,869.3 211.2,865.3 217.6,861.3 219.2,857.3 216.2,851.3 213.6,847.3 218.2,845.3 211.2,841.3 211.2,837.3 217.6,833.3 214.4,825.3 210.4,817.3 217.6,813.3 221.9,809.3 220.2,805.3 214.7,801.3 213.9,797.3 214.7,793.3 218.7,789.3 216.2,785.3 213.2,781.3 211.5,777.3 212.2,773.3 220.2,769.3 216.2,765.3 213.2,761.3 218.7,757.3 218.7,753.3 213.2,749.3 213.9,745.3 216.2,741.3 212.3,739.1 228.2,739.1 230.8,736.8 232.7,771.3 235.1,801.3 237.4,841.1 240.6,871.3 241.8,885.3 243,887.5 244.2,885.3 245.5,871.3 247.8,848.3 249.9,831.1 252.7,781.3 255,735.3" fill="#000000"/><circle cx="216.2" cy="737.8" r="3.05" fill="#141414" stroke="#000" stroke-width="0.7"/><circle cx="208.1" cy="741.3" r="3.05" fill="#141414" stroke="#000" stroke-width="0.7"/><circle cx="192.7" cy="741.8" r="3.05" fill="#141414" stroke="#000" stroke-width="0.7"/><circle cx="187" cy="751.5" r="3.05" fill="#141414" stroke="#000" stroke-width="0.7"/><circle cx="206.6" cy="751.9" r="3.05" fill="#141414" stroke="#000" stroke-width="0.7"/><circle cx="203.1" cy="755.7" r="3.05" fill="#141414" stroke="#000" stroke-width="0.7"/><circle cx="214.7" cy="751.7" r="3.05" fill="#141414" stroke="#000" stroke-width="0.7"/><circle cx="208.6" cy="760.5" r="3.05" fill="#141414" stroke="#000" stroke-width="0.7"/><circle cx="214.7" cy="762.5" r="3.05" fill="#141414" stroke="#000" stroke-width="0.7"/><circle cx="198.6" cy="763.5" r="3.05" fill="#141414" stroke="#000" stroke-width="0.7"/><circle cx="193.2" cy="762" r="3.05" fill="#141414" stroke="#000" stroke-width="0.7"/><circle cx="175.4" cy="761.5" r="3.05" fill="#141414" stroke="#000" stroke-width="0.7"/><circle cx="176.1" cy="768.7" r="3.05" fill="#141414" stroke="#000" stroke-width="0.7"/><circle cx="207.1" cy="770" r="3.05" fill="#141414" stroke="#000" stroke-width="0.7"/><circle cx="213.2" cy="771" r="3.05" fill="#141414" stroke="#000" stroke-width="0.7"/><circle cx="203.6" cy="771.5" r="3.05" fill="#141414" stroke="#000" stroke-width="0.7"/><circle cx="200.1" cy="773.9" r="3.05" fill="#141414" stroke="#000" stroke-width="0.7"/><circle cx="196" cy="776.9" r="3.05" fill="#141414" stroke="#000" stroke-width="0.7"/><circle cx="214.7" cy="778.1" r="3.05" fill="#141414" stroke="#000" stroke-width="0.7"/><circle cx="189.7" cy="784.8" r="3.05" fill="#141414" stroke="#000" stroke-width="0.7"/><circle cx="203.1" cy="786.5" r="3.05" fill="#141414" stroke="#000" stroke-width="0.7"/><circle cx="210.2" cy="790.7" r="3.05" fill="#141414" stroke="#000" stroke-width="0.7"/><circle cx="204.9" cy="792.5" r="3.05" fill="#141414" stroke="#000" stroke-width="0.7"/><circle cx="215.2" cy="794.2" r="3.05" fill="#141414" stroke="#000" stroke-width="0.7"/><circle cx="202.6" cy="798.3" r="3.05" fill="#141414" stroke="#000" stroke-width="0.7"/><circle cx="193.7" cy="798.9" r="3.05" fill="#141414" stroke="#000" stroke-width="0.7"/><circle cx="175.7" cy="798.3" r="3.05" fill="#141414" stroke="#000" stroke-width="0.7"/><circle cx="209.6" cy="803.8" r="3.05" fill="#141414" stroke="#000" stroke-width="0.7"/><circle cx="215.7" cy="801.8" r="3.05" fill="#141414" stroke="#000" stroke-width="0.7"/><circle cx="173.4" cy="814.9" r="3.05" fill="#141414" stroke="#000" stroke-width="0.7"/><circle cx="196.5" cy="817.7" r="3.05" fill="#141414" stroke="#000" stroke-width="0.7"/><circle cx="213.2" cy="814.9" r="3.05" fill="#141414" stroke="#000" stroke-width="0.7"/><circle cx="211.7" cy="821.9" r="3.05" fill="#141414" stroke="#000" stroke-width="0.7"/><circle cx="203.4" cy="827.3" r="3.05" fill="#141414" stroke="#000" stroke-width="0.7"/><circle cx="200.7" cy="827.7" r="3.05" fill="#141414" stroke="#000" stroke-width="0.7"/><circle cx="181.4" cy="829.8" r="3.05" fill="#141414" stroke="#000" stroke-width="0.7"/><circle cx="210.2" cy="835.1" r="3.05" fill="#141414" stroke="#000" stroke-width="0.7"/><circle cx="206.6" cy="836.1" r="3.05" fill="#141414" stroke="#000" stroke-width="0.7"/><circle cx="180.9" cy="841.7" r="3.05" fill="#141414" stroke="#000" stroke-width="0.7"/><circle cx="215.2" cy="827" r="3.05" fill="#141414" stroke="#000" stroke-width="0.7"/><circle cx="213.2" cy="846.4" r="3.05" fill="#141414" stroke="#000" stroke-width="0.7"/><circle cx="210.4" cy="852" r="3.05" fill="#141414" stroke="#000" stroke-width="0.7"/><circle cx="163.8" cy="853" r="3.05" fill="#141414" stroke="#000" stroke-width="0.7"/><circle cx="196.5" cy="859.5" r="3.05" fill="#141414" stroke="#000" stroke-width="0.7"/><circle cx="213.2" cy="864.1" r="3.05" fill="#141414" stroke="#000" stroke-width="0.7"/><circle cx="178.4" cy="863.6" r="3.05" fill="#141414" stroke="#000" stroke-width="0.7"/><circle cx="177.4" cy="872.1" r="3.05" fill="#141414" stroke="#000" stroke-width="0.7"/><circle cx="206.1" cy="884.7" r="3.05" fill="#141414" stroke="#000" stroke-width="0.7"/><circle cx="214.7" cy="877.7" r="3.05" fill="#141414" stroke="#000" stroke-width="0.7"/><circle cx="214.7" cy="882.7" r="3.05" fill="#141414" stroke="#000" stroke-width="0.7"/><circle cx="213.7" cy="900.4" r="3.05" fill="#141414" stroke="#000" stroke-width="0.7"/><circle cx="213.4" cy="840.5" r="3.05" fill="#141414" stroke="#000" stroke-width="0.7"/><circle cx="210.6" cy="835.1" r="3.05" fill="#141414" stroke="#000" stroke-width="0.7"/><circle cx="225.9" cy="896.3" r="3.05" fill="#141414" stroke="#000" stroke-width="0.7"/><circle cx="227" cy="907.8" r="3.05" fill="#141414" stroke="#000" stroke-width="0.7"/><circle cx="224.9" cy="915.5" r="3.05" fill="#141414" stroke="#000" stroke-width="0.7"/><circle cx="228.7" cy="919.3" r="3.05" fill="#141414" stroke="#000" stroke-width="0.7"/><circle cx="218.3" cy="887.6" r="3.05" fill="#141414" stroke="#000" stroke-width="0.7"/><circle cx="53.7" cy="927.6" r="3.05" fill="#141414" stroke="#000" stroke-width="0.7"/><polygon points="225,594.8 212.2,593.8 206.2,595.8 203.7,598.3 206.2,602.3 207.7,606.3 207.2,610.3 209.2,614.3 211.7,618.3 212.2,622.3 209.7,625.3 210.7,629.3 212.2,634.3 212.7,639.3 215.2,645.3 216.2,649.3 212.2,653.3 207.2,657.3 203.2,662.3 202.2,666.3 205.2,670.3 207.2,674.3 209.2,678.3 214.2,683.3 218.6,686.8 217.2,693.7 218.6,700.7 217.2,707.7 214.2,714.3 219.2,721.3 213.7,728.3 209.2,732.3 208.2,739.6 228.2,739.6 230.6,736.8 230.2,723.3 229.2,701.3 227.9,679.3 226.9,659.3 226.7,647.3 225.8,626.3 225.2,606.3" fill="#FF0000"/><polygon points="264.2,687.3 258.7,685.3 257,693.3 256.4,711.3 255.7,723.3 254.4,738.3 263.4,738.3 263.4,726.3 263.7,711.3 264.4,699.3" fill="#FF0000"/><circle cx="384.2" cy="518.4" r="3.05" fill="#F22" stroke="#F00" stroke-width="0.7"/><circle cx="323.4" cy="518.4" r="3.05" fill="#F22" stroke="#F00" stroke-width="0.7"/><circle cx="311.9" cy="518.4" r="3.05" fill="#F22" stroke="#F00" stroke-width="0.7"/><circle cx="295.1" cy="518.4" r="3.05" fill="#F22" stroke="#F00" stroke-width="0.7"/><circle cx="280" cy="518.4" r="3.05" fill="#F22" stroke="#F00" stroke-width="0.7"/><circle cx="273.7" cy="518.4" r="3.05" fill="#F22" stroke="#F00" stroke-width="0.7"/><circle cx="270.3" cy="518.4" r="3.05" fill="#F22" stroke="#F00" stroke-width="0.7"/><circle cx="267.7" cy="518.4" r="3.05" fill="#F22" stroke="#F00" stroke-width="0.7"/><circle cx="265.6" cy="518.4" r="3.05" fill="#F22" stroke="#F00" stroke-width="0.7"/><circle cx="221.2" cy="518.4" r="3.05" fill="#F22" stroke="#F00" stroke-width="0.7"/><circle cx="219.22" cy="518.4" r="3.05" fill="#F22" stroke="#F00" stroke-width="0.7"/><circle cx="217.24" cy="518.4" r="3.05" fill="#F22" stroke="#F00" stroke-width="0.7"/><circle cx="215.26" cy="518.4" r="3.05" fill="#F22" stroke="#F00" stroke-width="0.7"/><circle cx="213.28" cy="518.4" r="3.05" fill="#F22" stroke="#F00" stroke-width="0.7"/><circle cx="211.3" cy="518.4" r="3.05" fill="#F22" stroke="#F00" stroke-width="0.7"/><circle cx="209.32" cy="518.4" r="3.05" fill="#F22" stroke="#F00" stroke-width="0.7"/><circle cx="207.34" cy="518.4" r="3.05" fill="#F22" stroke="#F00" stroke-width="0.7"/><circle cx="205.36" cy="518.4" r="3.05" fill="#F22" stroke="#F00" stroke-width="0.7"/><circle cx="203.38" cy="518.4" r="3.05" fill="#F22" stroke="#F00" stroke-width="0.7"/><circle cx="201.4" cy="518.4" r="3.05" fill="#F22" stroke="#F00" stroke-width="0.7"/><circle cx="199.42" cy="518.4" r="3.05" fill="#F22" stroke="#F00" stroke-width="0.7"/><circle cx="197.44" cy="518.4" r="3.05" fill="#F22" stroke="#F00" stroke-width="0.7"/><circle cx="195.46" cy="518.4" r="3.05" fill="#F22" stroke="#F00" stroke-width="0.7"/><circle cx="193.48" cy="518.4" r="3.05" fill="#F22" stroke="#F00" stroke-width="0.7"/><circle cx="191.5" cy="518.4" r="3.05" fill="#F22" stroke="#F00" stroke-width="0.7"/><circle cx="189.52" cy="518.4" r="3.05" fill="#F22" stroke="#F00" stroke-width="0.7"/><circle cx="187.54" cy="518.4" r="3.05" fill="#F22" stroke="#F00" stroke-width="0.7"/><circle cx="185.56" cy="518.4" r="3.05" fill="#F22" stroke="#F00" stroke-width="0.7"/><circle cx="183.58" cy="518.4" r="3.05" fill="#F22" stroke="#F00" stroke-width="0.7"/><circle cx="181.6" cy="518.4" r="3.05" fill="#F22" stroke="#F00" stroke-width="0.7"/><circle cx="179.62" cy="518.4" r="3.05" fill="#F22" stroke="#F00" stroke-width="0.7"/><circle cx="177.64" cy="518.4" r="3.05" fill="#F22" stroke="#F00" stroke-width="0.7"/><circle cx="175.66" cy="518.4" r="3.05" fill="#F22" stroke="#F00" stroke-width="0.7"/><circle cx="173.68" cy="518.4" r="3.05" fill="#F22" stroke="#F00" stroke-width="0.7"/><circle cx="171.7" cy="518.4" r="3.05" fill="#F22" stroke="#F00" stroke-width="0.7"/><circle cx="169.72" cy="518.4" r="3.05" fill="#F22" stroke="#F00" stroke-width="0.7"/><circle cx="167.74" cy="518.4" r="3.05" fill="#F22" stroke="#F00" stroke-width="0.7"/><circle cx="165.76" cy="518.4" r="3.05" fill="#F22" stroke="#F00" stroke-width="0.7"/><circle cx="163.78" cy="518.4" r="3.05" fill="#F22" stroke="#F00" stroke-width="0.7"/><circle cx="161.8" cy="518.4" r="3.05" fill="#F22" stroke="#F00" stroke-width="0.7"/><circle cx="159.82" cy="518.4" r="3.05" fill="#F22" stroke="#F00" stroke-width="0.7"/><circle cx="157.84" cy="518.4" r="3.05" fill="#F22" stroke="#F00" stroke-width="0.7"/><circle cx="155.86" cy="518.4" r="3.05" fill="#F22" stroke="#F00" stroke-width="0.7"/><circle cx="153.88" cy="518.4" r="3.05" fill="#F22" stroke="#F00" stroke-width="0.7"/><circle cx="151.9" cy="518.4" r="3.05" fill="#F22" stroke="#F00" stroke-width="0.7"/><circle cx="149.92" cy="518.4" r="3.05" fill="#F22" stroke="#F00" stroke-width="0.7"/><circle cx="147.94" cy="518.4" r="3.05" fill="#F22" stroke="#F00" stroke-width="0.7"/><circle cx="145.96" cy="518.4" r="3.05" fill="#F22" stroke="#F00" stroke-width="0.7"/><circle cx="143.98" cy="518.4" r="3.05" fill="#F22" stroke="#F00" stroke-width="0.7"/><circle cx="142" cy="518.4" r="3.05" fill="#F22" stroke="#F00" stroke-width="0.7"/><circle cx="140.02" cy="518.4" r="3.05" fill="#F22" stroke="#F00" stroke-width="0.7"/><circle cx="138.04" cy="518.4" r="3.05" fill="#F22" stroke="#F00" stroke-width="0.7"/><circle cx="136.06" cy="518.4" r="3.05" fill="#F22" stroke="#F00" stroke-width="0.7"/><circle cx="134.08" cy="518.4" r="3.05" fill="#F22" stroke="#F00" stroke-width="0.7"/><circle cx="132.1" cy="518.4" r="3.05" fill="#F22" stroke="#F00" stroke-width="0.7"/><circle cx="130.12" cy="518.4" r="3.05" fill="#F22" stroke="#F00" stroke-width="0.7"/><circle cx="128.14" cy="518.4" r="3.05" fill="#F22" stroke="#F00" stroke-width="0.7"/><circle cx="126.16" cy="518.4" r="3.05" fill="#F22" stroke="#F00" stroke-width="0.7"/><circle cx="124.18" cy="518.4" r="3.05" fill="#F22" stroke="#F00" stroke-width="0.7"/><circle cx="122.2" cy="518.4" r="3.05" fill="#F22" stroke="#F00" stroke-width="0.7"/><circle cx="111" cy="518.4" r="3.05" fill="#F22" stroke="#F00" stroke-width="0.7"/><circle cx="106.5" cy="518.4" r="3.05" fill="#F22" stroke="#F00" stroke-width="0.7"/><circle cx="102.8" cy="518.4" r="3.05" fill="#F22" stroke="#F00" stroke-width="0.7"/><circle cx="84.9" cy="518.4" r="3.05" fill="#F22" stroke="#F00" stroke-width="0.7"/><circle cx="70.8" cy="518.4" r="3.05" fill="#F22" stroke="#F00" stroke-width="0.7"/><circle cx="221.2" cy="547" r="3.05" fill="#F22" stroke="#F00" stroke-width="0.7"/><circle cx="219.2" cy="547" r="3.05" fill="#F22" stroke="#F00" stroke-width="0.7"/><circle cx="217.2" cy="547" r="3.05" fill="#F22" stroke="#F00" stroke-width="0.7"/><circle cx="215.2" cy="547" r="3.05" fill="#F22" stroke="#F00" stroke-width="0.7"/><circle cx="213.2" cy="547" r="3.05" fill="#F22" stroke="#F00" stroke-width="0.7"/><circle cx="211.2" cy="547" r="3.05" fill="#F22" stroke="#F00" stroke-width="0.7"/><circle cx="209.2" cy="547" r="3.05" fill="#F22" stroke="#F00" stroke-width="0.7"/><circle cx="207.2" cy="547" r="3.05" fill="#F22" stroke="#F00" stroke-width="0.7"/><circle cx="205.2" cy="547" r="3.05" fill="#F22" stroke="#F00" stroke-width="0.7"/><circle cx="195.2" cy="547" r="3.05" fill="#F22" stroke="#F00" stroke-width="0.7"/><circle cx="190.2" cy="547" r="3.05" fill="#F22" stroke="#F00" stroke-width="0.7"/><circle cx="180.9" cy="547" r="3.05" fill="#F22" stroke="#F00" stroke-width="0.7"/><circle cx="173.6" cy="547" r="3.05" fill="#F22" stroke="#F00" stroke-width="0.7"/><circle cx="170" cy="547" r="3.05" fill="#F22" stroke="#F00" stroke-width="0.7"/><circle cx="156.4" cy="547" r="3.05" fill="#F22" stroke="#F00" stroke-width="0.7"/><circle cx="264" cy="563.7" r="3.05" fill="#F22" stroke="#F00" stroke-width="0.7"/><circle cx="221.2" cy="563.7" r="3.05" fill="#F22" stroke="#F00" stroke-width="0.7"/><circle cx="219.2" cy="563.7" r="3.05" fill="#F22" stroke="#F00" stroke-width="0.7"/><circle cx="217.2" cy="563.7" r="3.05" fill="#F22" stroke="#F00" stroke-width="0.7"/><circle cx="215.2" cy="563.7" r="3.05" fill="#F22" stroke="#F00" stroke-width="0.7"/><circle cx="213.2" cy="563.7" r="3.05" fill="#F22" stroke="#F00" stroke-width="0.7"/><circle cx="211.2" cy="563.7" r="3.05" fill="#F22" stroke="#F00" stroke-width="0.7"/><circle cx="209.2" cy="563.7" r="3.05" fill="#F22" stroke="#F00" stroke-width="0.7"/><circle cx="207.2" cy="563.7" r="3.05" fill="#F22" stroke="#F00" stroke-width="0.7"/><circle cx="205.2" cy="563.7" r="3.05" fill="#F22" stroke="#F00" stroke-width="0.7"/><circle cx="203.2" cy="563.7" r="3.05" fill="#F22" stroke="#F00" stroke-width="0.7"/><circle cx="201.2" cy="563.7" r="3.05" fill="#F22" stroke="#F00" stroke-width="0.7"/><circle cx="199.2" cy="563.7" r="3.05" fill="#F22" stroke="#F00" stroke-width="0.7"/><circle cx="197.2" cy="563.7" r="3.05" fill="#F22" stroke="#F00" stroke-width="0.7"/><circle cx="195.2" cy="563.7" r="3.05" fill="#F22" stroke="#F00" stroke-width="0.7"/><circle cx="193.2" cy="563.7" r="3.05" fill="#F22" stroke="#F00" stroke-width="0.7"/><circle cx="191.2" cy="563.7" r="3.05" fill="#F22" stroke="#F00" stroke-width="0.7"/><circle cx="189.2" cy="563.7" r="3.05" fill="#F22" stroke="#F00" stroke-width="0.7"/><circle cx="181.3" cy="563.7" r="3.05" fill="#F22" stroke="#F00" stroke-width="0.7"/><circle cx="176.7" cy="563.7" r="3.05" fill="#F22" stroke="#F00" stroke-width="0.7"/><circle cx="284.4" cy="575.5" r="3.05" fill="#F22" stroke="#F00" stroke-width="0.7"/><circle cx="263.3" cy="575.5" r="3.05" fill="#F22" stroke="#F00" stroke-width="0.7"/><circle cx="221.2" cy="575.5" r="3.05" fill="#F22" stroke="#F00" stroke-width="0.7"/><circle cx="218.95" cy="575.5" r="3.05" fill="#F22" stroke="#F00" stroke-width="0.7"/><circle cx="216.7" cy="575.5" r="3.05" fill="#F22" stroke="#F00" stroke-width="0.7"/><circle cx="214.45" cy="575.5" r="3.05" fill="#F22" stroke="#F00" stroke-width="0.7"/><circle cx="212.2" cy="575.5" r="3.05" fill="#F22" stroke="#F00" stroke-width="0.7"/><circle cx="202.9" cy="575.5" r="3.05" fill="#F22" stroke="#F00" stroke-width="0.7"/><circle cx="184.6" cy="575.5" r="3.05" fill="#F22" stroke="#F00" stroke-width="0.7"/><circle cx="221.2" cy="584.8" r="3.05" fill="#F22" stroke="#F00" stroke-width="0.7"/><circle cx="219.2" cy="584.8" r="3.05" fill="#F22" stroke="#F00" stroke-width="0.7"/><circle cx="217.2" cy="584.8" r="3.05" fill="#F22" stroke="#F00" stroke-width="0.7"/><circle cx="215.2" cy="584.8" r="3.05" fill="#F22" stroke="#F00" stroke-width="0.7"/><circle cx="202.4" cy="584.8" r="3.05" fill="#F22" stroke="#F00" stroke-width="0.7"/><circle cx="196.4" cy="584.8" r="3.05" fill="#F22" stroke="#F00" stroke-width="0.7"/><circle cx="193.4" cy="584.8" r="3.05" fill="#F22" stroke="#F00" stroke-width="0.7"/><circle cx="173.2" cy="584.8" r="3.05" fill="#F22" stroke="#F00" stroke-width="0.7"/><circle cx="264" cy="592.1" r="3.05" fill="#F22" stroke="#F00" stroke-width="0.7"/><circle cx="221.2" cy="592.1" r="3.05" fill="#F22" stroke="#F00" stroke-width="0.7"/><circle cx="219.45" cy="592.1" r="3.05" fill="#F22" stroke="#F00" stroke-width="0.7"/><circle cx="217.7" cy="592.1" r="3.05" fill="#F22" stroke="#F00" stroke-width="0.7"/><circle cx="215.95" cy="592.1" r="3.05" fill="#F22" stroke="#F00" stroke-width="0.7"/><circle cx="214.2" cy="592.1" r="3.05" fill="#F22" stroke="#F00" stroke-width="0.7"/><circle cx="200.1" cy="592.1" r="3.05" fill="#F22" stroke="#F00" stroke-width="0.7"/><circle cx="179.2" cy="592.1" r="3.05" fill="#F22" stroke="#F00" stroke-width="0.7"/><circle cx="148" cy="592.1" r="3.05" fill="#F22" stroke="#F00" stroke-width="0.7"/><circle cx="202.8" cy="598.8" r="3.05" fill="#F22" stroke="#F00" stroke-width="0.7"/><circle cx="206.8" cy="604.4" r="3.05" fill="#F22" stroke="#F00" stroke-width="0.7"/><circle cx="182.3" cy="604.2" r="3.05" fill="#F22" stroke="#F00" stroke-width="0.7"/><circle cx="171.1" cy="604.3" r="3.05" fill="#F22" stroke="#F00" stroke-width="0.7"/><circle cx="165.5" cy="604.3" r="3.05" fill="#F22" stroke="#F00" stroke-width="0.7"/><circle cx="196.4" cy="608.7" r="3.05" fill="#F22" stroke="#F00" stroke-width="0.7"/><circle cx="207" cy="608.7" r="3.05" fill="#F22" stroke="#F00" stroke-width="0.7"/><circle cx="200.8" cy="613.1" r="3.05" fill="#F22" stroke="#F00" stroke-width="0.7"/><circle cx="189.3" cy="613.1" r="3.05" fill="#F22" stroke="#F00" stroke-width="0.7"/><circle cx="190.1" cy="617.5" r="3.05" fill="#F22" stroke="#F00" stroke-width="0.7"/><circle cx="198" cy="617.1" r="3.05" fill="#F22" stroke="#F00" stroke-width="0.7"/><circle cx="210.5" cy="617.3" r="3.05" fill="#F22" stroke="#F00" stroke-width="0.7"/><circle cx="204.4" cy="621.1" r="3.05" fill="#F22" stroke="#F00" stroke-width="0.7"/><circle cx="199.2" cy="621.1" r="3.05" fill="#F22" stroke="#F00" stroke-width="0.7"/><circle cx="194.4" cy="621.1" r="3.05" fill="#F22" stroke="#F00" stroke-width="0.7"/><circle cx="173.2" cy="620.9" r="3.05" fill="#F22" stroke="#F00" stroke-width="0.7"/><circle cx="184.4" cy="627" r="3.05" fill="#F22" stroke="#F00" stroke-width="0.7"/><circle cx="210" cy="626.9" r="3.05" fill="#F22" stroke="#F00" stroke-width="0.7"/><circle cx="203.6" cy="632.2" r="3.05" fill="#F22" stroke="#F00" stroke-width="0.7"/><circle cx="144.9" cy="632.8" r="3.05" fill="#F22" stroke="#F00" stroke-width="0.7"/><circle cx="127.7" cy="632.8" r="3.05" fill="#F22" stroke="#F00" stroke-width="0.7"/><circle cx="202.8" cy="637" r="3.05" fill="#F22" stroke="#F00" stroke-width="0.7"/><circle cx="198.4" cy="637.8" r="3.05" fill="#F22" stroke="#F00" stroke-width="0.7"/><circle cx="188.5" cy="637" r="3.05" fill="#F22" stroke="#F00" stroke-width="0.7"/><circle cx="185.3" cy="639.4" r="3.05" fill="#F22" stroke="#F00" stroke-width="0.7"/><circle cx="180.5" cy="642.2" r="3.05" fill="#F22" stroke="#F00" stroke-width="0.7"/><circle cx="171.7" cy="635.1" r="3.05" fill="#F22" stroke="#F00" stroke-width="0.7"/><circle cx="168.5" cy="637.5" r="3.05" fill="#F22" stroke="#F00" stroke-width="0.7"/><circle cx="172.1" cy="642.4" r="3.05" fill="#F22" stroke="#F00" stroke-width="0.7"/><circle cx="180.7" cy="642.4" r="3.05" fill="#F22" stroke="#F00" stroke-width="0.7"/><circle cx="209.9" cy="640.2" r="3.05" fill="#F22" stroke="#F00" stroke-width="0.7"/><circle cx="204.4" cy="643.3" r="3.05" fill="#F22" stroke="#F00" stroke-width="0.7"/><circle cx="200.4" cy="644.1" r="3.05" fill="#F22" stroke="#F00" stroke-width="0.7"/><circle cx="202.9" cy="644" r="3.05" fill="#F22" stroke="#F00" stroke-width="0.7"/><circle cx="182.3" cy="651.1" r="3.05" fill="#F22" stroke="#F00" stroke-width="0.7"/><circle cx="201.2" cy="651.3" r="3.05" fill="#F22" stroke="#F00" stroke-width="0.7"/><circle cx="201.2" cy="656.1" r="3.05" fill="#F22" stroke="#F00" stroke-width="0.7"/><circle cx="214.3" cy="654.5" r="3.05" fill="#F22" stroke="#F00" stroke-width="0.7"/><circle cx="208.4" cy="658.5" r="3.05" fill="#F22" stroke="#F00" stroke-width="0.7"/><circle cx="215" cy="654.6" r="3.05" fill="#F22" stroke="#F00" stroke-width="0.7"/><circle cx="202.1" cy="647.3" r="3.05" fill="#F22" stroke="#F00" stroke-width="0.7"/><circle cx="200.6" cy="650.8" r="3.05" fill="#F22" stroke="#F00" stroke-width="0.7"/><circle cx="201.1" cy="655.9" r="3.05" fill="#F22" stroke="#F00" stroke-width="0.7"/><circle cx="176.9" cy="659.9" r="3.05" fill="#F22" stroke="#F00" stroke-width="0.7"/><circle cx="174.8" cy="660.3" r="3.05" fill="#F22" stroke="#F00" stroke-width="0.7"/><circle cx="214.7" cy="653.9" r="3.05" fill="#F22" stroke="#F00" stroke-width="0.7"/><circle cx="207.7" cy="658.4" r="3.05" fill="#F22" stroke="#F00" stroke-width="0.7"/><circle cx="211.7" cy="656.3" r="3.05" fill="#F22" stroke="#F00" stroke-width="0.7"/><circle cx="203.6" cy="663.4" r="3.05" fill="#F22" stroke="#F00" stroke-width="0.7"/><circle cx="198.1" cy="666.5" r="3.05" fill="#F22" stroke="#F00" stroke-width="0.7"/><circle cx="189.5" cy="668" r="3.05" fill="#F22" stroke="#F00" stroke-width="0.7"/><circle cx="184.8" cy="672.4" r="3.05" fill="#F22" stroke="#F00" stroke-width="0.7"/><circle cx="174.7" cy="668.3" r="3.05" fill="#F22" stroke="#F00" stroke-width="0.7"/><circle cx="171.2" cy="666.8" r="3.05" fill="#F22" stroke="#F00" stroke-width="0.7"/><circle cx="184.7" cy="670.6" r="3.05" fill="#F22" stroke="#F00" stroke-width="0.7"/><circle cx="200.6" cy="672.5" r="3.05" fill="#F22" stroke="#F00" stroke-width="0.7"/><circle cx="207.7" cy="676" r="3.05" fill="#F22" stroke="#F00" stroke-width="0.7"/><circle cx="200.1" cy="677.6" r="3.05" fill="#F22" stroke="#F00" stroke-width="0.7"/><circle cx="211.7" cy="679.6" r="3.05" fill="#F22" stroke="#F00" stroke-width="0.7"/><circle cx="214.7" cy="681.6" r="3.05" fill="#F22" stroke="#F00" stroke-width="0.7"/><circle cx="198.1" cy="683.1" r="3.05" fill="#F22" stroke="#F00" stroke-width="0.7"/><circle cx="192.6" cy="683.8" r="3.05" fill="#F22" stroke="#F00" stroke-width="0.7"/><circle cx="165.7" cy="682" r="3.05" fill="#F22" stroke="#F00" stroke-width="0.7"/><circle cx="212.7" cy="688.6" r="3.05" fill="#F22" stroke="#F00" stroke-width="0.7"/><circle cx="201.1" cy="690.7" r="3.05" fill="#F22" stroke="#F00" stroke-width="0.7"/><circle cx="178.7" cy="689.5" r="3.05" fill="#F22" stroke="#F00" stroke-width="0.7"/><circle cx="161.9" cy="695.1" r="3.05" fill="#F22" stroke="#F00" stroke-width="0.7"/><circle cx="216.7" cy="693.7" r="3.05" fill="#F22" stroke="#F00" stroke-width="0.7"/><circle cx="186.4" cy="697.1" r="3.05" fill="#F22" stroke="#F00" stroke-width="0.7"/><circle cx="205.6" cy="698.7" r="3.05" fill="#F22" stroke="#F00" stroke-width="0.7"/><circle cx="200.1" cy="698.7" r="3.05" fill="#F22" stroke="#F00" stroke-width="0.7"/><circle cx="210.7" cy="701.2" r="3.05" fill="#F22" stroke="#F00" stroke-width="0.7"/><circle cx="200.1" cy="704.3" r="3.05" fill="#F22" stroke="#F00" stroke-width="0.7"/><circle cx="185.3" cy="704.3" r="3.05" fill="#F22" stroke="#F00" stroke-width="0.7"/><circle cx="211.7" cy="711.8" r="3.05" fill="#F22" stroke="#F00" stroke-width="0.7"/><circle cx="206.6" cy="715.9" r="3.05" fill="#F22" stroke="#F00" stroke-width="0.7"/><circle cx="195.7" cy="712.8" r="3.05" fill="#F22" stroke="#F00" stroke-width="0.7"/><circle cx="193.2" cy="713.8" r="3.05" fill="#F22" stroke="#F00" stroke-width="0.7"/><circle cx="213.7" cy="718.9" r="3.05" fill="#F22" stroke="#F00" stroke-width="0.7"/><circle cx="204.6" cy="719.9" r="3.05" fill="#F22" stroke="#F00" stroke-width="0.7"/><circle cx="200.6" cy="718.9" r="3.05" fill="#F22" stroke="#F00" stroke-width="0.7"/><circle cx="216.7" cy="710.8" r="3.05" fill="#F22" stroke="#F00" stroke-width="0.7"/><circle cx="198.1" cy="726.9" r="3.05" fill="#F22" stroke="#F00" stroke-width="0.7"/><circle cx="211.7" cy="731" r="3.05" fill="#F22" stroke="#F00" stroke-width="0.7"/><circle cx="206.6" cy="732" r="3.05" fill="#F22" stroke="#F00" stroke-width="0.7"/><circle cx="201.1" cy="732.5" r="3.05" fill="#F22" stroke="#F00" stroke-width="0.7"/><circle cx="186.6" cy="733.9" r="3.05" fill="#F22" stroke="#F00" stroke-width="0.7"/><circle cx="215.7" cy="734" r="3.05" fill="#F22" stroke="#F00" stroke-width="0.7"/><circle cx="144.8" cy="734.4" r="3.05" fill="#F22" stroke="#F00" stroke-width="0.7"/><circle cx="262.8" cy="641.5" r="3.05" fill="#F22" stroke="#F00" stroke-width="0.7"/><circle cx="298.9" cy="647.8" r="3.05" fill="#F22" stroke="#F00" stroke-width="0.7"/><circle cx="261.7" cy="652.8" r="3.05" fill="#F22" stroke="#F00" stroke-width="0.7"/><circle cx="268" cy="613.5" r="3.05" fill="#F22" stroke="#F00" stroke-width="0.7"/><circle cx="264.8" cy="624.3" r="3.05" fill="#F22" stroke="#F00" stroke-width="0.7"/><circle cx="263.8" cy="627.4" r="3.05" fill="#F22" stroke="#F00" stroke-width="0.7"/><circle cx="265.3" cy="635.4" r="3.05" fill="#F22" stroke="#F00" stroke-width="0.7"/><circle cx="261.6" cy="673.2" r="3.05" fill="#F22" stroke="#F00" stroke-width="0.7"/><circle cx="261.1" cy="676.8" r="3.05" fill="#F22" stroke="#F00" stroke-width="0.7"/><circle cx="261.1" cy="679.8" r="3.05" fill="#F22" stroke="#F00" stroke-width="0.7"/><circle cx="261.1" cy="682.6" r="3.05" fill="#F22" stroke="#F00" stroke-width="0.7"/><circle cx="264.1" cy="684.6" r="3.05" fill="#F22" stroke="#F00" stroke-width="0.7"/><circle cx="263.6" cy="691.7" r="3.05" fill="#F22" stroke="#F00" stroke-width="0.7"/><circle cx="266.6" cy="715.4" r="3.05" fill="#F22" stroke="#F00" stroke-width="0.7"/><circle cx="264.6" cy="710.9" r="3.05" fill="#F22" stroke="#F00" stroke-width="0.7"/><circle cx="267.1" cy="727" r="3.05" fill="#F22" stroke="#F00" stroke-width="0.7"/><circle cx="263.6" cy="718.9" r="3.05" fill="#F22" stroke="#F00" stroke-width="0.7"/><circle cx="261.4" cy="685.3" r="3.05" fill="#F22" stroke="#F00" stroke-width="0.7"/><circle cx="260.7" cy="689.3" r="3.05" fill="#F22" stroke="#F00" stroke-width="0.7"/><circle cx="261.2" cy="694.3" r="3.05" fill="#F22" stroke="#F00" stroke-width="0.7"/><circle cx="214.2" cy="644.3" r="3.05" fill="#F22" stroke="#F00" stroke-width="0.7"/><circle cx="211.2" cy="647.3" r="3.05" fill="#F22" stroke="#F00" stroke-width="0.7"/><circle cx="214.7" cy="649.8" r="3.05" fill="#F22" stroke="#F00" stroke-width="0.7"/><circle cx="204.2" cy="663.3" r="3.05" fill="#F22" stroke="#F00" stroke-width="0.7"/><circle cx="201.7" cy="666.3" r="3.05" fill="#F22" stroke="#F00" stroke-width="0.7"/><circle cx="206.2" cy="668.3" r="3.05" fill="#F22" stroke="#F00" stroke-width="0.7"/><circle cx="208.2" cy="672.3" r="3.05" fill="#F22" stroke="#F00" stroke-width="0.7"/><circle cx="200.7" cy="672.6" r="3.05" fill="#F22" stroke="#F00" stroke-width="0.7"/><circle cx="200.4" cy="677.1" r="3.05" fill="#F22" stroke="#F00" stroke-width="0.7"/><circle cx="208" cy="676.1" r="3.05" fill="#F22" stroke="#F00" stroke-width="0.7"/><circle cx="214" cy="653.9" r="3.05" fill="#F22" stroke="#F00" stroke-width="0.7"/><circle cx="209.5" cy="657.9" r="3.05" fill="#F22" stroke="#F00" stroke-width="0.7"/><circle cx="197.9" cy="666" r="3.05" fill="#F22" stroke="#F00" stroke-width="0.7"/><circle cx="212.5" cy="688.4" r="3.05" fill="#F22" stroke="#F00" stroke-width="0.7"/><circle cx="201.2" cy="689.7" r="3.05" fill="#F22" stroke="#F00" stroke-width="0.7"/><line x1="243.35" y1="947.6" x2="243.35" y2="498.5" stroke="#000" stroke-width="2.3" stroke-dasharray="9.0 8.36" stroke-dashoffset="0.5"/></g>
<rect x="54.3" y="37.1" width="377.9" height="448.9" fill="none" stroke="#333333" stroke-width="1.6"/>
<rect x="54.3" y="498.5" width="377.9" height="449.1" fill="none" stroke="#333333" stroke-width="1.6"/>
<rect x="444.0" y="37.1" width="378.2" height="448.9" fill="none" stroke="#333333" stroke-width="1.6"/>
<rect x="444.0" y="498.5" width="378.2" height="449.1" fill="none" stroke="#333333" stroke-width="1.6"/>
<rect x="54.3" y="1.7" width="377.9" height="34.5" fill="#D9D9D9" stroke="#333333" stroke-width="1.6"/>
<text transform="translate(243.25,25.2) scale(1,1.055)" font-family="'Liberation Sans', Arial, sans-serif" font-size="18.2" fill="#1A1A1A" stroke="#1A1A1A" stroke-width="0.3" text-anchor="middle">t28</text>
<rect x="444.0" y="1.7" width="378.2" height="34.5" fill="#D9D9D9" stroke="#333333" stroke-width="1.6"/>
<text transform="translate(633.1,25.2) scale(1,1.055)" font-family="'Liberation Sans', Arial, sans-serif" font-size="18.2" fill="#1A1A1A" stroke="#1A1A1A" stroke-width="0.3" text-anchor="middle">t37</text>
<rect x="823.0" y="37.1" width="34.5" height="448.9" fill="#D9D9D9" stroke="#333333" stroke-width="1.6"/>
<text transform="translate(833.8,261.55) rotate(90) scale(1,1.055)" font-family="'Liberation Sans', Arial, sans-serif" font-size="18.2" fill="#1A1A1A" stroke="#1A1A1A" stroke-width="0.3" text-anchor="middle">t28</text>
<rect x="823.0" y="498.5" width="34.5" height="449.1" fill="#D9D9D9" stroke="#333333" stroke-width="1.6"/>
<text transform="translate(833.8,723.05) rotate(90) scale(1,1.055)" font-family="'Liberation Sans', Arial, sans-serif" font-size="18.2" fill="#1A1A1A" stroke="#1A1A1A" stroke-width="0.3" text-anchor="middle">t37</text>
<line x1="48.2" y1="466.3" x2="54.3" y2="466.3" stroke="#333333" stroke-width="1.6"/>
<text transform="translate(43.6,473.2) scale(1,1.055)" font-family="'Liberation Sans', Arial, sans-serif" font-size="18.2" fill="#4D4D4D" stroke="#4D4D4D" stroke-width="0.3" text-anchor="end">0</text>
<line x1="48.2" y1="371.15" x2="54.3" y2="371.15" stroke="#333333" stroke-width="1.6"/>
<text transform="translate(43.6,378.05) scale(1,1.055)" font-family="'Liberation Sans', Arial, sans-serif" font-size="18.2" fill="#4D4D4D" stroke="#4D4D4D" stroke-width="0.3" text-anchor="end">1</text>
<line x1="48.2" y1="276" x2="54.3" y2="276" stroke="#333333" stroke-width="1.6"/>
<text transform="translate(43.6,282.9) scale(1,1.055)" font-family="'Liberation Sans', Arial, sans-serif" font-size="18.2" fill="#4D4D4D" stroke="#4D4D4D" stroke-width="0.3" text-anchor="end">2</text>
<line x1="48.2" y1="180.85" x2="54.3" y2="180.85" stroke="#333333" stroke-width="1.6"/>
<text transform="translate(43.6,187.75) scale(1,1.055)" font-family="'Liberation Sans', Arial, sans-serif" font-size="18.2" fill="#4D4D4D" stroke="#4D4D4D" stroke-width="0.3" text-anchor="end">3</text>
<line x1="48.2" y1="85.7" x2="54.3" y2="85.7" stroke="#333333" stroke-width="1.6"/>
<text transform="translate(43.6,92.6) scale(1,1.055)" font-family="'Liberation Sans', Arial, sans-serif" font-size="18.2" fill="#4D4D4D" stroke="#4D4D4D" stroke-width="0.3" text-anchor="end">4</text>
<line x1="48.2" y1="927.6" x2="54.3" y2="927.6" stroke="#333333" stroke-width="1.6"/>
<text transform="translate(43.6,934.5) scale(1,1.055)" font-family="'Liberation Sans', Arial, sans-serif" font-size="18.2" fill="#4D4D4D" stroke="#4D4D4D" stroke-width="0.3" text-anchor="end">0</text>
<line x1="48.2" y1="832.45" x2="54.3" y2="832.45" stroke="#333333" stroke-width="1.6"/>
<text transform="translate(43.6,839.35) scale(1,1.055)" font-family="'Liberation Sans', Arial, sans-serif" font-size="18.2" fill="#4D4D4D" stroke="#4D4D4D" stroke-width="0.3" text-anchor="end">1</text>
<line x1="48.2" y1="737.3" x2="54.3" y2="737.3" stroke="#333333" stroke-width="1.6"/>
<text transform="translate(43.6,744.2) scale(1,1.055)" font-family="'Liberation Sans', Arial, sans-serif" font-size="18.2" fill="#4D4D4D" stroke="#4D4D4D" stroke-width="0.3" text-anchor="end">2</text>
<line x1="48.2" y1="642.15" x2="54.3" y2="642.15" stroke="#333333" stroke-width="1.6"/>
<text transform="translate(43.6,649.05) scale(1,1.055)" font-family="'Liberation Sans', Arial, sans-serif" font-size="18.2" fill="#4D4D4D" stroke="#4D4D4D" stroke-width="0.3" text-anchor="end">3</text>
<line x1="48.2" y1="547" x2="54.3" y2="547" stroke="#333333" stroke-width="1.6"/>
<text transform="translate(43.6,553.9) scale(1,1.055)" font-family="'Liberation Sans', Arial, sans-serif" font-size="18.2" fill="#4D4D4D" stroke="#4D4D4D" stroke-width="0.3" text-anchor="end">4</text>
<line x1="57.9" y1="947.6" x2="57.9" y2="953.7" stroke="#333333" stroke-width="1.6"/>
<text transform="translate(57.9,971.3) scale(1,1.055)" font-family="'Liberation Sans', Arial, sans-serif" font-size="18.2" fill="#4D4D4D" stroke="#4D4D4D" stroke-width="0.3" text-anchor="middle">−5.0</text>
<line x1="150.62" y1="947.6" x2="150.62" y2="953.7" stroke="#333333" stroke-width="1.6"/>
<text transform="translate(150.62,971.3) scale(1,1.055)" font-family="'Liberation Sans', Arial, sans-serif" font-size="18.2" fill="#4D4D4D" stroke="#4D4D4D" stroke-width="0.3" text-anchor="middle">−2.5</text>
<line x1="243.35" y1="947.6" x2="243.35" y2="953.7" stroke="#333333" stroke-width="1.6"/>
<text transform="translate(243.35,971.3) scale(1,1.055)" font-family="'Liberation Sans', Arial, sans-serif" font-size="18.2" fill="#4D4D4D" stroke="#4D4D4D" stroke-width="0.3" text-anchor="middle">0.0</text>
<line x1="336.07" y1="947.6" x2="336.07" y2="953.7" stroke="#333333" stroke-width="1.6"/>
<text transform="translate(336.07,971.3) scale(1,1.055)" font-family="'Liberation Sans', Arial, sans-serif" font-size="18.2" fill="#4D4D4D" stroke="#4D4D4D" stroke-width="0.3" text-anchor="middle">2.5</text>
<line x1="428.8" y1="947.6" x2="428.8" y2="953.7" stroke="#333333" stroke-width="1.6"/>
<text transform="translate(428.8,971.3) scale(1,1.055)" font-family="'Liberation Sans', Arial, sans-serif" font-size="18.2" fill="#4D4D4D" stroke="#4D4D4D" stroke-width="0.3" text-anchor="middle">5.0</text>
<line x1="447.4" y1="947.6" x2="447.4" y2="953.7" stroke="#333333" stroke-width="1.6"/>
<text transform="translate(447.4,971.3) scale(1,1.055)" font-family="'Liberation Sans', Arial, sans-serif" font-size="18.2" fill="#4D4D4D" stroke="#4D4D4D" stroke-width="0.3" text-anchor="middle">−5.0</text>
<line x1="540.12" y1="947.6" x2="540.12" y2="953.7" stroke="#333333" stroke-width="1.6"/>
<text transform="translate(540.12,971.3) scale(1,1.055)" font-family="'Liberation Sans', Arial, sans-serif" font-size="18.2" fill="#4D4D4D" stroke="#4D4D4D" stroke-width="0.3" text-anchor="middle">−2.5</text>
<line x1="632.85" y1="947.6" x2="632.85" y2="953.7" stroke="#333333" stroke-width="1.6"/>
<text transform="translate(632.85,971.3) scale(1,1.055)" font-family="'Liberation Sans', Arial, sans-serif" font-size="18.2" fill="#4D4D4D" stroke="#4D4D4D" stroke-width="0.3" text-anchor="middle">0.0</text>
<line x1="725.58" y1="947.6" x2="725.58" y2="953.7" stroke="#333333" stroke-width="1.6"/>
<text transform="translate(725.58,971.3) scale(1,1.055)" font-family="'Liberation Sans', Arial, sans-serif" font-size="18.2" fill="#4D4D4D" stroke="#4D4D4D" stroke-width="0.3" text-anchor="middle">2.5</text>
<line x1="818.3" y1="947.6" x2="818.3" y2="953.7" stroke="#333333" stroke-width="1.6"/>
<text transform="translate(818.3,971.3) scale(1,1.055)" font-family="'Liberation Sans', Arial, sans-serif" font-size="18.2" fill="#4D4D4D" stroke="#4D4D4D" stroke-width="0.3" text-anchor="middle">5.0</text>
<text x="437.9" y="999" font-family="'Liberation Sans', Arial, sans-serif" font-size="22.3" fill="#000" stroke="#000" stroke-width="0.3" text-anchor="middle">log<tspan font-size="16.5" dy="4.4">2</tspan><tspan dy="-4.4">(fold change)</tspan></text>
<text transform="translate(16.9,492.4) rotate(-90)" font-family="'Liberation Sans', Arial, sans-serif" font-size="22.3" fill="#000" stroke="#000" stroke-width="0.3" text-anchor="middle"><tspan dy="2">−</tspan><tspan dx="2" dy="-2">log</tspan><tspan font-size="16.5" dy="4.4">10</tspan><tspan dy="-4.4">(p value)</tspan></text>
<text x="892.6" y="460.0" font-family="'Liberation Sans', Arial, sans-serif" font-size="22.3" fill="#000" stroke="#000" stroke-width="0.3">significant</text>
<circle cx="909.9" cy="487" r="3.05" fill="#141414" stroke="#000" stroke-width="0.7"/>
<circle cx="909.9" cy="522" r="3.05" fill="#F22" stroke="#F00" stroke-width="0.7"/>
<text transform="translate(932.5,494.5) scale(1,1.055)" font-family="'Liberation Sans', Arial, sans-serif" font-size="18.2" fill="#000" stroke="#000" stroke-width="0.3">no</text>
<text transform="translate(932.5,529.5) scale(1,1.055)" font-family="'Liberation Sans', Arial, sans-serif" font-size="18.2" fill="#000" stroke="#000" stroke-width="0.3">yes</text>
</g>
</svg></body></html>
